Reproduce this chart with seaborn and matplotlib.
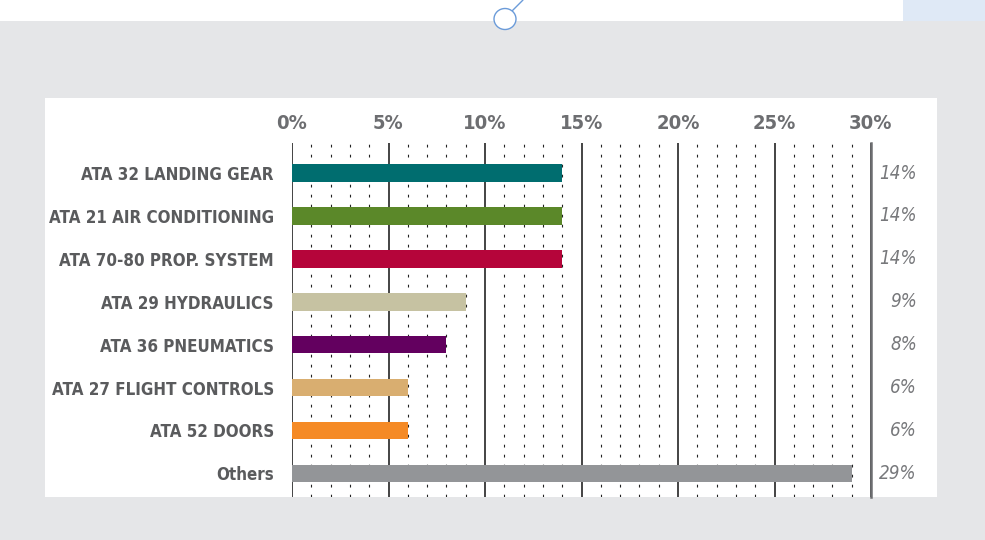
import matplotlib
matplotlib.use("Agg")
import matplotlib.pyplot as plt
from matplotlib.patches import Rectangle, Ellipse
from matplotlib.lines import Line2D
import matplotlib.transforms as mtransforms
import seaborn as sns
import pandas as pd

categories = ["ATA 32 LANDING GEAR", "ATA 21 AIR CONDITIONING", "ATA 70-80 PROP. SYSTEM",
              "ATA 29 HYDRAULICS", "ATA 36 PNEUMATICS", "ATA 27 FLIGHT CONTROLS",
              "ATA 52 DOORS", "Others"]
values = [14, 14, 14, 9, 8, 6, 6, 29]
value_labels = ["14%", "14%", "14%", "9%", "8%", "6%", "6%", "29%"]
bar_colors = ["#006d6f", "#5b8829", "#b5053a", "#c6c2a2", "#63005f", "#d9ae70", "#f58a25", "#939598"]
tick_values = [0, 5, 10, 15, 20, 25, 30]
tick_labels = ["0%", "5%", "10%", "15%", "20%", "25%", "30%"]

sns.set_theme(style="white")
plt.rcParams['font.family'] = ['DejaVu Sans']

W, H = 985, 540
fig = plt.figure(figsize=(W / 100, H / 100), dpi=100)
fig.patch.set_facecolor("#e5e6e8")

def fx(px):
    return px / W

def fy(py):
    return 1 - py / H

fig.patches.append(Rectangle((0, fy(21)), 1, 21 / H, transform=fig.transFigure,
                             facecolor="white", edgecolor="none", zorder=-3))
fig.patches.append(Rectangle((fx(903), fy(21)), fx(985 - 903), 21 / H, transform=fig.transFigure,
                             facecolor="#dfe9f6", edgecolor="none", zorder=-2))
fig.patches.append(Rectangle((fx(45), fy(497)), fx(937 - 45), (497 - 98) / H, transform=fig.transFigure,
                             facecolor="white", edgecolor="none", zorder=-3))
fig.patches.append(Ellipse((fx(505), fy(19)), fx(22), 21 / H, transform=fig.transFigure,
                           facecolor="white", edgecolor="#6b9bd9", lw=1.0, zorder=-1))
fig.lines.append(Line2D([fx(512), fx(523)], [fy(11), fy(0)], transform=fig.transFigure,
                        color="#6b9bd9", lw=1.0, zorder=-1))

ax = fig.add_axes([fx(292), fy(497), fx(871 - 292), (497 - 143) / H])
ax.set_zorder(2)
ax.patch.set_alpha(0)

df = pd.DataFrame({"category": categories, "value": values})
sns.barplot(data=df, x="value", y="category", hue="category", palette=bar_colors,
            legend=False, width=0.41, saturation=1, edgecolor="none", linewidth=0, ax=ax)

ax.set_xlim(0, 30)
ax.set_ylim(7.55, -0.70)
ax.set_axisbelow(True)

ax.xaxis.tick_top()
ax.set_xticks(tick_values)
ax.set_xticklabels(tick_labels)
ax.set_xticks([v for v in range(0, 30) if v % 5 != 0], minor=True)
ax.tick_params(axis="x", which="both", length=0, pad=7, labelsize=14.5,
               labelcolor="#6d6e71")
for t in ax.get_xticklabels():
    t.set_fontweight("bold")
    t.set_fontstretch("condensed")
ax.tick_params(axis="y", length=0, pad=13, labelsize=12.2, labelcolor="#5a5b5d")
for t in ax.get_yticklabels():
    t.set_fontweight("bold")
    t.set_fontstretch("condensed")

ax.grid(axis="x", which="major", color="#111111", lw=1.1, linestyle="-")
ax.grid(axis="x", which="minor", color="#222222", lw=0.8, linestyle=(0, (2.5, 6.5)))
ax.grid(axis="y", visible=False)

for s in ["top", "bottom", "left"]:
    ax.spines[s].set_visible(False)
ax.spines["right"].set_visible(True)
ax.spines["right"].set_color("#6d6e71")
ax.spines["right"].set_linewidth(1.8)

ax.set_xlabel("")
ax.set_ylabel("")

trans = mtransforms.blended_transform_factory(ax.transAxes, ax.transData)
for i, lab in enumerate(value_labels):
    ax.annotate(lab, xy=(1, i), xycoords=trans, xytext=(33, 0), textcoords="offset points",
                ha="right", va="center", fontsize=13.5, style="italic", color="#77787b",
                family=["DejaVu Sans"], fontstretch="condensed", annotation_clip=False)

fig.savefig("out.png", dpi=100, facecolor=fig.get_facecolor())
